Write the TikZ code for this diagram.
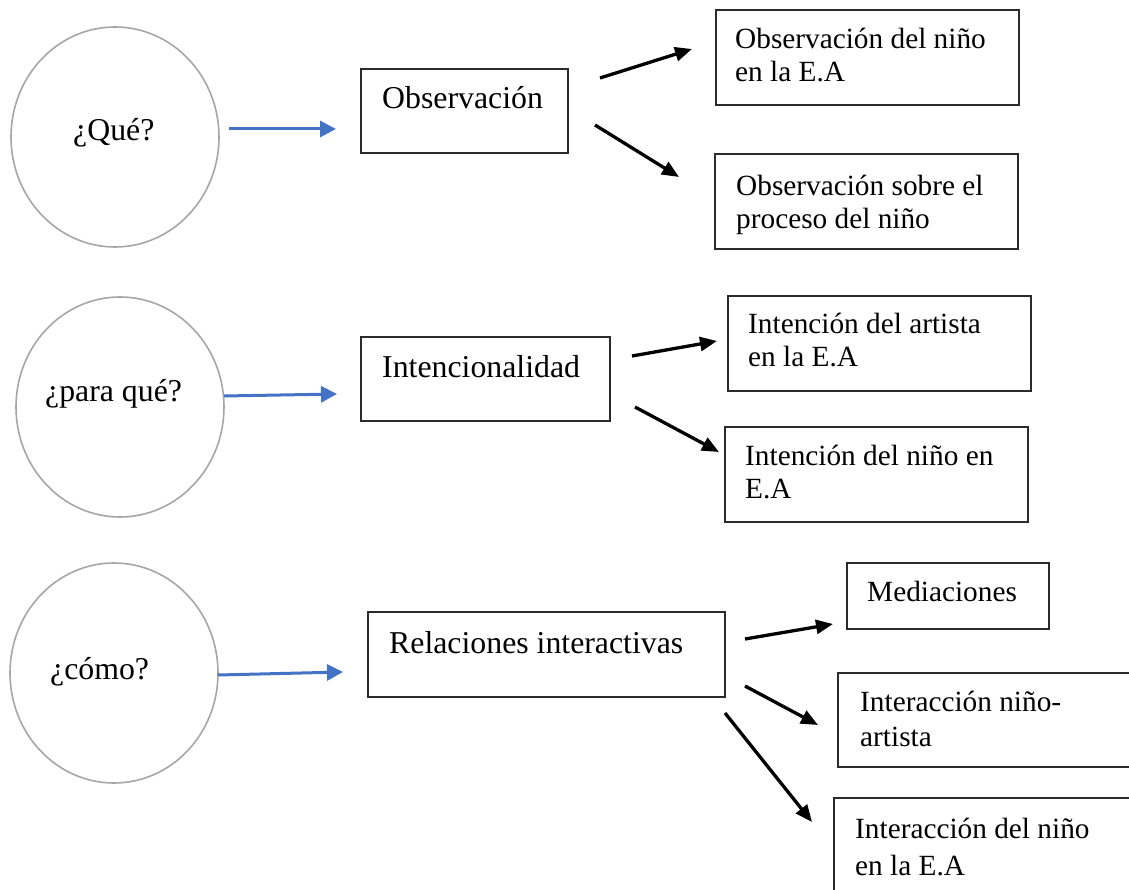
\documentclass[tikz,border=0pt]{standalone}
\usepackage{fontspec}
\setmainfont{Liberation Serif}
\usetikzlibrary{shapes.geometric,arrows.meta}
\definecolor{circgray}{HTML}{A6A6A6}
\definecolor{boxline}{HTML}{2B2B2B}
\definecolor{arrowblue}{HTML}{4472C4}
\newcommand{\topstrutx}{\rule{0pt}{25pt}}
\begin{document}
\begin{tikzpicture}[x=1pt,y=-1pt,
  qcircle/.style={draw=circgray, line width=1.6pt, ellipse, minimum width=208pt, minimum height=220pt, inner sep=0pt},
  framebox/.style={draw=boxline, line width=1.5pt, rectangle, inner sep=0pt},
  bigtext/.style={font=\fontsize{31.8}{36.5}\selectfont, inner sep=0pt, anchor=base west},
  smalltext/.style={font=\fontsize{29.3}{33.7}\selectfont, inner sep=0pt, anchor=north west, align=left},
  bluearrow/.style={draw=arrowblue, line width=3pt, -{Triangle[length=16pt,width=16pt]}},
  blackarrow/.style={draw=black, line width=3.3pt, -{Triangle[length=17pt,width=14pt]}}
]
\useasboundingbox (0,0) rectangle (1129,890);

% circles
\node[qcircle] (c1) at (115,137) {};
\node[qcircle] (c2) at (120,407) {};
\node[qcircle] (c3) at (114,673) {};
\node[bigtext] (c1t) at (73,141) {¿Qué?};
\node[bigtext] (c2t) at (45,401) {¿para qué?};
\node[bigtext] (c3t) at (50,679) {¿cómo?};

% middle boxes
\node[framebox, minimum width=207pt, minimum height=84pt] (obs) at (464.5,111) {};
\node[bigtext] (obst) at (382,109) {Observación};
\node[framebox, minimum width=249pt, minimum height=84pt] (int) at (485.5,379) {};
\node[bigtext] (intt) at (382,377) {Intencionalidad};
\node[framebox, minimum width=357pt, minimum height=85pt] (rel) at (546.5,654.5) {};
\node[bigtext] (relt) at (389,653) {Relaciones interactivas};

% right boxes
\node[framebox, minimum width=303pt, minimum height=95pt] (b1a) at (867.5,57.5) {};
\node[smalltext] (b1at) at (735,23) {\topstrutx Observación del niño\\en la E.A};
\node[framebox, minimum width=303pt, minimum height=95pt] (b1b) at (866.5,201.5) {};
\node[smalltext] (b1bt) at (736,170) {\topstrutx Observación sobre el\\proceso del niño};
\node[framebox, minimum width=303pt, minimum height=95pt] (b2a) at (879.5,343.5) {};
\node[smalltext] (b2at) at (748,308) {\topstrutx Intención del artista\\en la E.A};
\node[framebox, minimum width=303pt, minimum height=95pt] (b2b) at (876.5,474.5) {};
\node[smalltext] (b2bt) at (745,440) {\topstrutx Intención del niño en\\E.A};
\node[framebox, minimum width=202pt, minimum height=66pt] (b3a) at (948,596) {};
\node[smalltext] (b3at) at (867,576) {\topstrutx Mediaciones};
\node[framebox, minimum width=294pt, minimum height=94pt] (b3b) at (985,720) {};
\node[smalltext, font=\fontsize{29.3}{35}\selectfont] (b3bt) at (860,686) {\topstrutx Interacción niño-\\artista};
\node[framebox, minimum width=298pt, minimum height=97pt] (b3c) at (983,846.5) {};
\node[smalltext, font=\fontsize{29.3}{37}\selectfont] (b3ct) at (855,813) {\topstrutx Interacción del niño\\en la E.A};

% arrow end points
\coordinate (u1s) at (229,129); \coordinate (u1e) at (336,129);
\coordinate (u2s) at (224,396); \coordinate (u2e) at (337,394);
\coordinate (u3s) at (218,675); \coordinate (u3e) at (343,672);
\coordinate (k1s) at (600,78);  \coordinate (k1e) at (692,49);
\coordinate (k2s) at (595,125); \coordinate (k2e) at (679,177);
\coordinate (k3s) at (632,356); \coordinate (k3e) at (717,341);
\coordinate (k4s) at (635,407); \coordinate (k4e) at (719,452);
\coordinate (k5s) at (745,639); \coordinate (k5e) at (833,624);
\coordinate (k6s) at (745,686); \coordinate (k6e) at (818,725);
\coordinate (k7s) at (725,713); \coordinate (k7e) at (812,822);

\draw[bluearrow] (u1s) -- (u1e);
\draw[bluearrow] (u2s) -- (u2e);
\draw[bluearrow] (u3s) -- (u3e);
\draw[blackarrow] (k1s) -- (k1e);
\draw[blackarrow] (k2s) -- (k2e);
\draw[blackarrow] (k3s) -- (k3e);
\draw[blackarrow] (k4s) -- (k4e);
\draw[blackarrow] (k5s) -- (k5e);
\draw[blackarrow] (k6s) -- (k6e);
\draw[blackarrow] (k7s) -- (k7e);
\end{tikzpicture}
\end{document}
